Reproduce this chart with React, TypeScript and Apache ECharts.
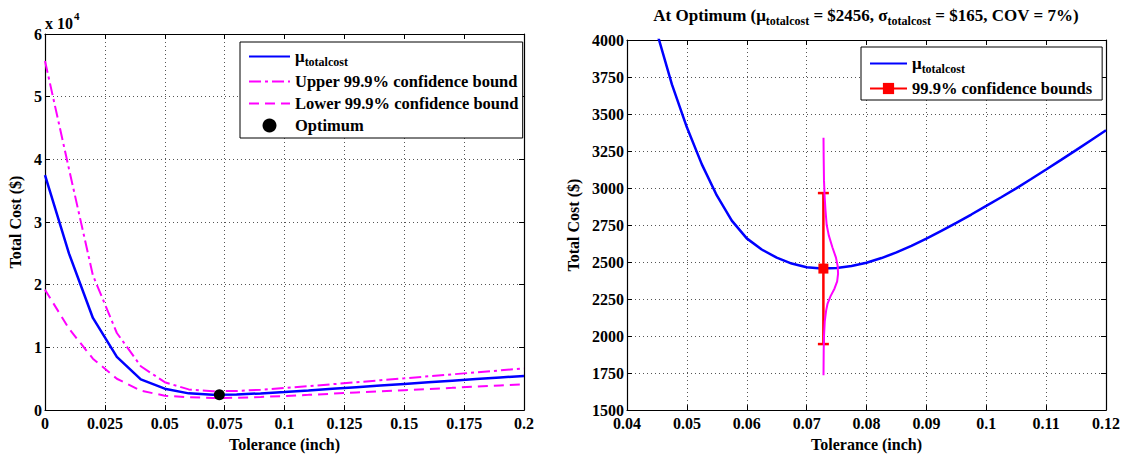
import React, { useEffect, useRef } from "react";
import * as echarts from "echarts";

// ---------- data ----------
const leftTolerance = [0, 0.01, 0.02, 0.03, 0.04, 0.05, 0.06, 0.07, 0.08, 0.09, 0.1, 0.11, 0.12, 0.13, 0.14, 0.15, 0.16, 0.17, 0.18, 0.19, 0.2];
const leftMean = [37500, 25000, 14700, 8500, 4900, 3420, 2670, 2465, 2495, 2663, 2879, 3125, 3390, 3650, 3910, 4170, 4430, 4690, 4950, 5200, 5450];
const leftUpper = [55700, 38500, 21500, 12300, 7000, 4450, 3300, 3010, 3050, 3260, 3520, 3820, 4130, 4440, 4760, 5070, 5390, 5700, 6020, 6330, 6650];
const leftLower = [19200, 13000, 8200, 5000, 3100, 2300, 2050, 1940, 1960, 2090, 2250, 2430, 2620, 2810, 2990, 3180, 3370, 3550, 3740, 3930, 4120];

const optimumTolerance = 0.0728;
const optimumMean = 2456;
const boundLow = 1946;
const boundHigh = 2966;

const rightTolerance = [0.045, 0.0475, 0.05, 0.0525, 0.055, 0.0575, 0.06, 0.0625, 0.065, 0.0675, 0.07, 0.0725, 0.075, 0.0775, 0.08, 0.0825, 0.085, 0.0875, 0.09, 0.0925, 0.095, 0.0975, 0.1, 0.1025, 0.105, 0.1075, 0.11, 0.1125, 0.115, 0.1175, 0.12];
const rightMean = [4050, 3700, 3410, 3160, 2950, 2780, 2660, 2585, 2530, 2490, 2465, 2456, 2460, 2473, 2495, 2527, 2565, 2610, 2658, 2710, 2765, 2821, 2879, 2938, 2998, 3061, 3125, 3190, 3256, 3323, 3390];

const pdfCost = [3340, 3200, 3050, 2950, 2850, 2750, 2680, 2600, 2530, 2470, 2420, 2370, 2320, 2270, 2220, 2170, 2100, 2000, 1900, 1735];
const pdfTolerance = [0.07282, 0.07285, 0.0729, 0.073, 0.07315, 0.07335, 0.0737, 0.0743, 0.0749, 0.0752, 0.07525, 0.0751, 0.07465, 0.074, 0.0735, 0.07325, 0.07303, 0.0729, 0.07285, 0.07282];

const leftXTicks = { min: 0, max: 0.2, interval: 0.025 };
const leftYTicks = { min: 0, max: 60000, interval: 10000 };
const rightXTicks = { min: 0.04, max: 0.12, interval: 0.01 };
const rightYTicks = { min: 1500, max: 4000, interval: 250 };

const MU_NAME = "μtotalcost";
const UPPER_NAME = "Upper 99.9% confidence bound";
const LOWER_NAME = "Lower 99.9% confidence bound";
const OPT_NAME = "Optimum";
const BOUNDS_NAME = "99.9% confidence bounds";

// ---------- styles ----------
const FONT = "Liberation Serif";
const BLUE = "#0000ff";
const MAGENTA = "#ff00ff";
const RED = "#ff0000";

const zip = (xs: number[], ys: number[]) => xs.map((x, i) => [x, ys[i]]);

function mainAxis(kind: "x" | "y", gridIndex: number, ticks: any, extra: any = {}) {
  return {
    type: "value",
    gridIndex,
    min: ticks.min,
    max: ticks.max,
    interval: ticks.interval,
    position: kind === "x" ? "bottom" : "left",
    axisLine: { show: true, onZero: false, lineStyle: { color: "#000", width: 1.2 } },
    axisTick: { show: true, inside: true, length: 5, lineStyle: { color: "#000", width: 1 } },
    splitLine: { show: true, lineStyle: { color: "#555", width: 1, type: [1, 3] } },
    axisLabel: {
      show: true,
      color: "#000",
      fontFamily: FONT,
      fontWeight: "bold",
      fontSize: 16,
      margin: kind === "x" ? 5 : 3,
      formatter: (v: number) => String(v),
    },
    nameLocation: "middle",
    nameTextStyle: { color: "#000", fontFamily: FONT, fontWeight: "bold", fontSize: 16 },
    ...extra,
  };
}

function boxAxis(kind: "x" | "y", gridIndex: number, ticks: any) {
  return {
    type: "value",
    gridIndex,
    min: ticks.min,
    max: ticks.max,
    interval: ticks.interval,
    position: kind === "x" ? "top" : "right",
    axisLine: { show: true, onZero: false, lineStyle: { color: "#000", width: 1.2 } },
    axisTick: { show: true, inside: true, length: 5, lineStyle: { color: "#000", width: 1 } },
    splitLine: { show: false },
    axisLabel: { show: false },
  };
}

const legendRich = {
  mu: { fontFamily: FONT, fontWeight: "bold", fontSize: 17, color: "#000" },
  sub: { fontFamily: FONT, fontWeight: "bold", fontSize: 12, color: "#000", padding: [11, 0, 0, 0] },
};

const legendFormatter = (name: string) => (name === MU_NAME ? "{mu|μ}{sub|totalcost}" : name);

const hiddenSymbol = { color: "rgba(0,0,0,0)", borderWidth: 0, opacity: 0 };

export default function App() {
  const ref = useRef<HTMLDivElement>(null);

  useEffect(() => {
    if (!ref.current) return;
    const chart = echarts.init(ref.current, null, { renderer: "svg" });

    const legendBase = {
      orient: "vertical",
      itemHeight: 14,
      itemGap: 5,
      borderColor: "#000",
      borderWidth: 1,
      borderRadius: 0,
      backgroundColor: "#fff",
      selectedMode: false,
      formatter: legendFormatter,
      textStyle: { fontFamily: FONT, fontWeight: "bold", fontSize: 16.5, color: "#000", rich: legendRich },
    };

    const option: any = {
      animation: false,
      backgroundColor: "#fff",
      textStyle: { fontFamily: FONT },
      grid: [
        { left: 45, top: 34, width: 479, height: 379, containLabel: false },
        { left: 627, top: 40, width: 479, height: 373, containLabel: false },
      ],
      xAxis: [
        mainAxis("x", 0, leftXTicks, { name: "Tolerance (inch)", nameGap: 22 }),
        boxAxis("x", 0, leftXTicks),
        mainAxis("x", 1, rightXTicks, { name: "Tolerance (inch)", nameGap: 22 }),
        boxAxis("x", 1, rightXTicks),
      ],
      yAxis: [
        mainAxis("y", 0, leftYTicks, {
          name: "Total Cost ($)",
          nameGap: 22,
          axisLabel: {
            show: true,
            color: "#000",
            fontFamily: FONT,
            fontWeight: "bold",
            fontSize: 16,
            margin: 3,
            formatter: (v: number) => String(v / 10000),
          },
        }),
        boxAxis("y", 0, leftYTicks),
        mainAxis("y", 1, rightYTicks, { name: "Total Cost ($)", nameGap: 46 }),
        boxAxis("y", 1, rightYTicks),
      ],
      legend: [
        {
          ...legendBase,
          left: 240,
          top: 42,
          itemWidth: 41,
          itemGap: 5,
          padding: [6, 4, 4, 8],
          data: [
            { name: MU_NAME, itemStyle: hiddenSymbol },
            { name: UPPER_NAME, itemStyle: hiddenSymbol },
            { name: LOWER_NAME, itemStyle: hiddenSymbol },
            { name: OPT_NAME },
          ],
        },
        {
          ...legendBase,
          left: 861,
          top: 47,
          itemWidth: 37,
          padding: [8, 10, 3, 8],
          data: [{ name: MU_NAME, itemStyle: hiddenSymbol }, { name: BOUNDS_NAME }],
        },
      ],
      graphic: [
        {
          type: "text",
          x: 866,
          y: 4,
          style: {
            text: "{n|At Optimum (}{g|μ}{s|totalcost}{n| = $2456, }{g|σ}{s|totalcost}{n| = $165, COV = 7%)}",
            align: "center",
            verticalAlign: "top",
            fill: "#000",
            fontFamily: FONT,
            rich: {
              n: { fontFamily: FONT, fontWeight: "bold", fontSize: 17, fill: "#000" },
              g: { fontFamily: FONT, fontWeight: "bold", fontSize: 17, fill: "#000" },
              s: { fontFamily: FONT, fontWeight: "bold", fontSize: 12, fill: "#000", padding: [11, 0, 0, 0] },
            },
          },
        },
        {
          type: "text",
          x: 45,
          y: 9,
          style: {
            text: "{a|x 10}{b|4}",
            fill: "#000",
            fontFamily: FONT,
            rich: {
              a: { fontFamily: FONT, fontWeight: "bold", fontSize: 16, fill: "#000", padding: [6, 0, 0, 0] },
              b: { fontFamily: FONT, fontWeight: "bold", fontSize: 11, fill: "#000", padding: [0, 0, 8, 1] },
            },
          },
        },
      ],
      series: [
        {
          name: MU_NAME,
          type: "line",
          xAxisIndex: 0,
          yAxisIndex: 0,
          symbol: "none",
          lineStyle: { color: BLUE, width: 2.5 },
          itemStyle: { color: BLUE },
          data: zip(leftTolerance, leftMean),
          z: 3,
        },
        {
          name: UPPER_NAME,
          type: "line",
          xAxisIndex: 0,
          yAxisIndex: 0,
          symbol: "none",
          lineStyle: { color: MAGENTA, width: 2, type: [12, 4, 3, 4] },
          itemStyle: { color: MAGENTA },
          data: zip(leftTolerance, leftUpper),
          z: 2,
        },
        {
          name: LOWER_NAME,
          type: "line",
          xAxisIndex: 0,
          yAxisIndex: 0,
          symbol: "none",
          lineStyle: { color: MAGENTA, width: 2, type: [10, 6] },
          itemStyle: { color: MAGENTA },
          data: zip(leftTolerance, leftLower),
          z: 2,
        },
        {
          name: OPT_NAME,
          type: "scatter",
          xAxisIndex: 0,
          yAxisIndex: 0,
          symbol: "circle",
          symbolSize: 11,
          itemStyle: { color: "#000", opacity: 1 },
          data: [[optimumTolerance, optimumMean]],
          z: 5,
        },
        {
          name: MU_NAME,
          type: "line",
          xAxisIndex: 2,
          yAxisIndex: 2,
          symbol: "none",
          lineStyle: { color: BLUE, width: 2.5 },
          itemStyle: { color: BLUE },
          data: zip(rightTolerance, rightMean),
          z: 2,
        },
        {
          name: BOUNDS_NAME,
          type: "line",
          xAxisIndex: 2,
          yAxisIndex: 2,
          symbol: "rect",
          symbolSize: 9,
          showSymbol: true,
          lineStyle: { color: RED, width: 2.5 },
          itemStyle: { color: RED },
          data: [
            { value: [optimumTolerance, boundLow], symbol: "rect", symbolSize: [11, 2.5] },
            { value: [optimumTolerance, optimumMean], symbol: "rect", symbolSize: 10 },
            { value: [optimumTolerance, boundHigh], symbol: "rect", symbolSize: [11, 2.5] },
          ],
          z: 3,
        },
        {
          name: "pdf",
          type: "line",
          xAxisIndex: 2,
          yAxisIndex: 2,
          symbol: "none",
          smooth: false,
          lineStyle: { color: MAGENTA, width: 2 },
          itemStyle: { color: MAGENTA },
          data: zip(pdfTolerance, pdfCost),
          z: 4,
        },
      ],
    };

    chart.setOption(option);
    return () => chart.dispose();
  }, []);

  return (
    <div
      ref={ref}
      style={{ position: "fixed", left: 0, top: 0, width: 1130, height: 457, background: "#fff" }}
    />
  );
}
